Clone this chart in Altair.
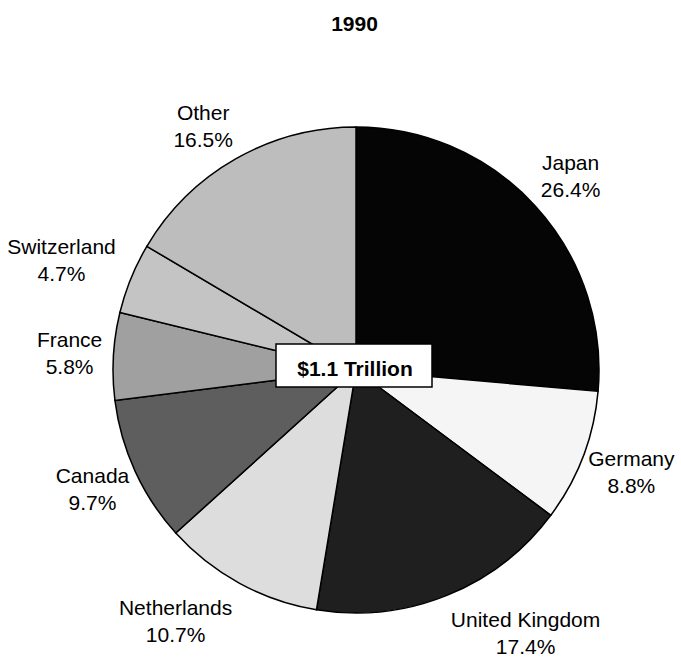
import altair as alt
import pandas as pd

countries = ["Japan", "Germany", "United Kingdom", "Netherlands", "Canada", "France", "Switzerland", "Other"]
shares = [26.4, 8.8, 17.4, 10.7, 9.7, 5.8, 4.7, 16.5]
fills = ["#050505", "#f5f5f5", "#1f1f1f", "#dddddd", "#5e5e5e", "#a0a0a0", "#c4c4c4", "#bdbdbd"]
total_label = "$1.1 Trillion"
title_text = "1990"

df = pd.DataFrame({
    "country": countries,
    "share": shares,
    "idx": list(range(len(countries))),
})
df["pct"] = df["share"].map(lambda v: f"{v:.1f}%")
df["label"] = df["country"] + "\n" + df["pct"]

FONT = "Liberation Sans"
CX, CY = 356, 320
LABEL_R = 255
CHAR_W = 10.6

theta_scale = alt.Scale(domain=[0, 100])

base = alt.Chart(df).transform_window(
    cum_end="sum(share)", sort=[alt.SortField("idx")]
).transform_joinaggregate(
    total="sum(share)"
).transform_calculate(
    cum_start="datum.cum_end - datum.share",
    mid="datum.cum_end - datum.share / 2",
    frac="(datum.cum_end - datum.share / 2) / datum.total",
)

pie = base.mark_arc(outerRadius=243, stroke="black", strokeWidth=1.5).encode(
    theta=alt.Theta("cum_start:Q", scale=theta_scale, stack=False),
    theta2="cum_end:Q",
    color=alt.Color("country:N", scale=alt.Scale(domain=countries, range=fills), legend=None),
    x=alt.value(CX), y=alt.value(CY),
)

labels = base.transform_calculate(
    vc="clamp(1.6 * cos(2 * PI * datum.frac), -1, 1)",
).transform_calculate(
    lx=f"{CX} + (sin(2 * PI * datum.frac) >= 0 ? 1 : -1) * max(length(datum.country), length(datum.pct)) * {CHAR_W} / 2",
    ly=f"{CY} - 24 - 21 * datum.vc + (datum.vc <= -1 ? 7 : 0)",
).mark_text(
    radius=LABEL_R, font=FONT, fontSize=21, lineBreak="\n", lineHeight=27,
    color="black", align="center", baseline="top",
).encode(
    theta=alt.Theta("mid:Q", scale=theta_scale, stack=False),
    text="label:N",
    x=alt.X("lx:Q", scale=None, axis=None),
    y=alt.Y("ly:Q", scale=None, axis=None),
)

box = alt.Chart(pd.DataFrame({"t": [total_label]})).mark_rect(
    fill="white", stroke="black", strokeWidth=1.5
).encode(
    x=alt.value(276), x2=alt.value(432), y=alt.value(294), y2=alt.value(337)
)

center_text = alt.Chart(pd.DataFrame({"t": [total_label]})).mark_text(
    font=FONT, fontSize=21, fontWeight="bold", color="black"
).encode(
    text="t:N", x=alt.value(355), y=alt.value(320)
)

chart = alt.layer(pie, labels, box, center_text).properties(
    width=681, height=611,
    padding={"top": 50, "left": 0, "right": 0, "bottom": 0},
    autosize=alt.AutoSizeParams(type="none"),
    title=alt.TitleParams(title_text, font=FONT, fontSize=21, fontWeight="bold",
                          anchor="middle", dx=14, offset=15, color="black"),
).configure_view(stroke=None)

chart.save("out.html", embed_options={"renderer": "svg", "actions": False})
